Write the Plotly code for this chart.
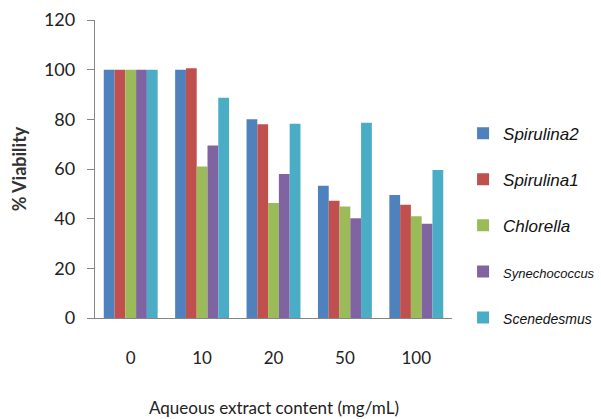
import plotly.graph_objects as go

# Aqueous extract concentrations (mg/mL)
concentrations = ["0", "10", "20", "50", "100"]

# % viability for each microalgae extract
spirulina2 = [100, 100, 80.0, 53.3, 49.5]
spirulina1 = [100, 100.6, 78.0, 47.2, 45.6]
chlorella = [100, 61.0, 46.3, 44.9, 41.0]
synechococcus = [100, 69.5, 58.0, 40.2, 38.0]
scenedesmus = [100, 88.7, 78.2, 78.6, 59.6]

series = [
    ("Spirulina2", spirulina2, "#4F81BD"),
    ("Spirulina1", spirulina1, "#C0504D"),
    ("Chlorella", chlorella, "#9BBB59"),
    ("<span style='font-size:13px'>Synechococcus</span>", synechococcus, "#8064A2"),
    ("<span style='font-size:14px'>Scenedesmus</span>", scenedesmus, "#4BACC6"),
]

fig = go.Figure()
for i, (name, vals, color) in enumerate(series):
    fig.add_trace(go.Bar(
        x=concentrations, y=vals, name=name,
        marker=dict(color=color, line=dict(width=0)),
        legendgroup=f"g{i}",
    ))

axis_color = "#868686"
fig.update_layout(
    width=601, height=419,
    margin=dict(l=95, r=149, t=20, b=101, autoexpand=False),
    paper_bgcolor="white", plot_bgcolor="white",
    barmode="group", bargap=0.245, bargroupgap=0,
    font=dict(family="Lato, sans-serif", color="#222222"),
    legend=dict(
        x=1.031, xanchor="left", y=0.31, yanchor="middle",
        font=dict(family="Liberation Sans, Arial, sans-serif", size=17, style="italic", color="#111111"),
        tracegroupgap=21, itemsizing="constant",
    ),
    xaxis=dict(
        type="category", automargin=False,
        showline=True, linecolor=axis_color, linewidth=1.3,
        ticks="", ticklabelstandoff=24,
        tickfont=dict(size=17, color="#222222"),
        showgrid=False,
    ),
    yaxis=dict(
        range=[0, 120], dtick=20, automargin=False,
        showline=True, linecolor=axis_color, linewidth=1.3,
        ticks="outside", ticklen=7, tickcolor=axis_color, tickwidth=1.3,
        tickfont=dict(size=18, color="#222222"),
        ticklabelstandoff=8,
        title=dict(text="<b>% Viability</b>", font=dict(size=18, color="#333333"), standoff=12),
        showgrid=False, zeroline=False,
    ),
    annotations=[dict(
        text="Aqueous extract content (mg/mL)",
        xref="paper", yref="paper", x=0.5, y=-0.30,
        xanchor="center", yanchor="middle", showarrow=False,
        font=dict(size=17, color="#222222"),
    )],
)

fig.write_html("out.html")
